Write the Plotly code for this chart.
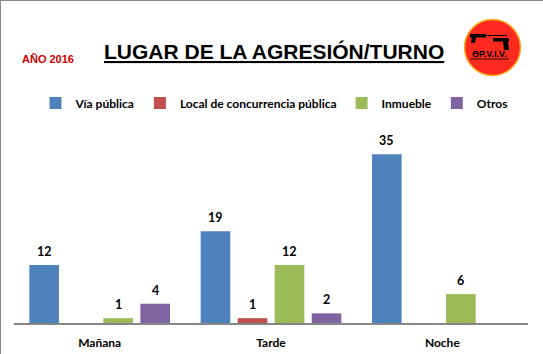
import plotly.graph_objects as go

# ---------------- data ----------------
categories = ["Mañana", "Tarde", "Noche"]
series_names = ["Vía pública", "Local de concurrencia pública", "Inmueble", "Otros"]
via_publica = [12, 19, 35]
local_concurrencia = [0, 1, 0]
inmueble = [1, 12, 6]
otros = [4, 2, 0]
series_values = [via_publica, local_concurrencia, inmueble, otros]
colors = ["#4F81BD", "#C0504D", "#9BBB59", "#8064A2"]

# ---------------- layout constants ----------------
W, H = 543, 354
ML, MR, MT, MB = 14, 15, 130, 31
PW, PH = W - ML - MR, H - MT - MB
BARGAP = 0.136
BARGROUPGAP = 0.2
YMAX = 40

def PX(x):
    return (x - ML) / PW

def PY(y):
    return (H - MB - y) / PH

LABEL_FONT = "Lato, 'DejaVu Sans', sans-serif"

fig = go.Figure()
for name, vals, col in zip(series_names, series_values, colors):
    fig.add_trace(go.Bar(
        x=categories, y=vals, name=name,
        marker=dict(color=col, line=dict(width=0)),
        hoverinfo="skip",
    ))

# data labels (skip zeros), aligned with grouped bar slots
slot = PW / len(categories) * (1 - BARGAP) / len(series_names)
annotations = []
for i, vals in enumerate(series_values):
    off = (i - (len(series_names) - 1) / 2) * slot
    for c, v in zip(categories, vals):
        if v > 0:
            annotations.append(dict(
                x=c, y=v, xref="x", yref="y", text=f"<b>{v}</b>",
                showarrow=False, xshift=off, yshift=4, yanchor="bottom",
                font=dict(family=LABEL_FONT, size=12.5, color="#000000"),
            ))

# title and year
annotations.append(dict(
    x=PX(274), y=PY(51), xref="paper", yref="paper",
    text="<b><u>LUGAR DE LA AGRESIÓN/TURNO</u></b>", showarrow=False,
    xanchor="center", yanchor="middle",
    font=dict(family="'Liberation Sans', Arial, sans-serif", size=21, color="#000000"),
))
annotations.append(dict(
    x=PX(20), y=PY(58.5), xref="paper", yref="paper",
    text="<b>AÑO 2016</b>", showarrow=False, xanchor="left", yanchor="middle",
    font=dict(family="'Liberation Sans', Arial, sans-serif", size=11, color="#CC0000"),
))
# logo text
annotations.append(dict(
    x=PX(489.5), y=PY(54.5), xref="paper", yref="paper",
    text="<b>ΘP.V.I.V.</b>", showarrow=False, xanchor="center", yanchor="middle",
    font=dict(family="'Liberation Sans', Arial, sans-serif", size=9, color="#000000"),
))

def path(points):
    s = "M" + " L".join(f"{PX(x):.5f},{PY(y):.5f}" for x, y in points) + " Z"
    return s

shapes = [
    # outer border (left & top)
    dict(type="line", xref="paper", yref="paper", x0=PX(0.5), x1=PX(0.5), y0=PY(0), y1=PY(H),
         line=dict(color="#898989", width=1)),
    dict(type="line", xref="paper", yref="paper", x0=PX(0), x1=PX(W), y0=PY(0.5), y1=PY(0.5),
         line=dict(color="#898989", width=1)),
    # logo circle
    dict(type="circle", xref="paper", yref="paper", x0=PX(464.5), x1=PX(520.5), y0=PY(19.5), y1=PY(75.5),
         fillcolor="#FF2A1F", line=dict(color="#F2B01E", width=1.5)),
    # left pistol
    dict(type="path", xref="paper", yref="paper",
         path=path([(470, 34), (486, 34), (486, 37.5), (476, 37.5), (475, 43), (471, 43), (472, 37.5), (470, 37.5)]),
         fillcolor="#000000", line=dict(width=0)),
    dict(type="line", xref="paper", yref="paper", x0=PX(486), x1=PX(507), y0=PY(35.5), y1=PY(35.5),
         line=dict(color="#000000", width=1)),
    # right pistol
    dict(type="path", xref="paper", yref="paper",
         path=path([(493, 38), (509, 38), (509, 41.5), (508, 41.5), (509, 50), (504, 50), (503, 41.5), (493, 41.5)]),
         fillcolor="#000000", line=dict(width=0)),
    # logo underline
    dict(type="line", xref="paper", yref="paper", x0=PX(470), x1=PX(509), y0=PY(59), y1=PY(59),
         line=dict(color="#000000", width=0.8)),
]

fig.update_layout(
    width=W, height=H,
    margin=dict(l=ML, r=MR, t=MT, b=MB, pad=0, autoexpand=False),
    paper_bgcolor="#FFFFFF", plot_bgcolor="#FFFFFF",
    barmode="group", bargap=BARGAP, bargroupgap=BARGROUPGAP,
    showlegend=True,
    legend=dict(
        orientation="h", x=PX(274), y=PY(103), xanchor="center", yanchor="middle",
        font=dict(family=LABEL_FONT, size=12, color="#000000", weight="bold"),
        bgcolor="rgba(0,0,0,0)", itemclick=False, itemdoubleclick=False,
    ),
    xaxis=dict(
        showline=True, linecolor="#868686", linewidth=1.5, ticks="", showgrid=False,
        zeroline=False, automargin=False,
        tickfont=dict(family=LABEL_FONT, size=12, color="#000000", weight="bold"),
        ticklabelstandoff=8, fixedrange=True,
    ),
    yaxis=dict(range=[0, YMAX], visible=False, showgrid=False, zeroline=False,
               fixedrange=True, automargin=False),
    annotations=annotations,
    shapes=shapes,
)

fig.write_html("out.html", config={"displayModeBar": False})
